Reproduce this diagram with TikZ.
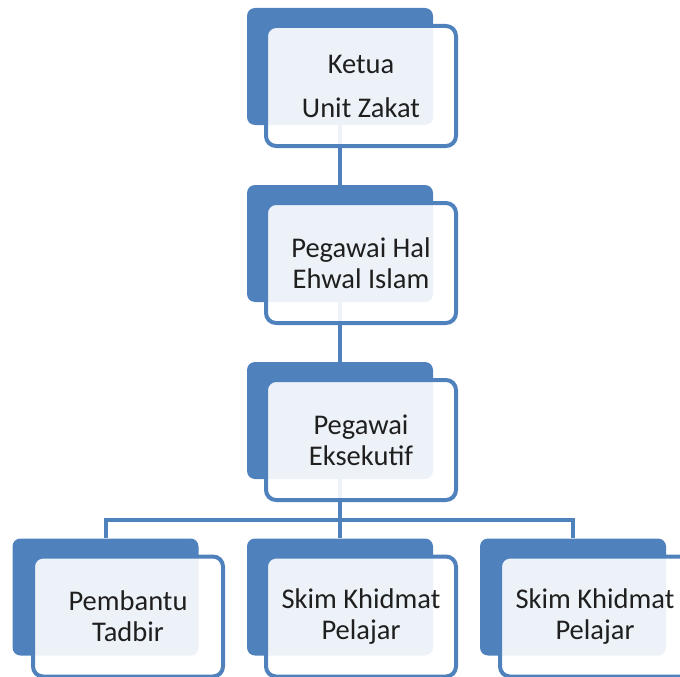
\documentclass[tikz,border=0pt]{standalone}
\usepackage{fontspec}
\setmainfont{Carlito}
\usepackage{xcolor}
\usepackage{tikz}
\usetikzlibrary{positioning}
\definecolor{orgblue}{HTML}{4F81BD}
\tikzset{back/.style={fill=orgblue,rounded corners=8pt,minimum width=186pt,minimum height=117pt,inner sep=0pt}}
\tikzstyle{front}=[draw=orgblue,line width=4pt,fill=white,fill opacity=0.9,text opacity=1,rounded corners=10pt,minimum width=190pt,minimum height=120pt,align=center,text=black!88,font=\fontsize{28.5}{31}\selectfont]
\tikzstyle{link}=[draw=orgblue,line width=4pt]

\begin{document}
\begin{tikzpicture}[x=1pt,y=-1pt,node distance=177pt]
    \useasboundingbox (0,0) rectangle (680,677);
    \clip (0,0) rectangle (680,677);
    \node [back] (b1) at (340,66.5) {};
    \node [back] (b2) [below of=b1] {};
    \node [back] (b3) [below of=b2] {};
    \node [back] (b4) [below of=b3,node distance=176.5pt] {};
    \node [back] (b5) [left of=b4,node distance=234.5pt] {};
    \node [back] (b6) [right of=b4,node distance=233pt] {};
    \path [link] (b1) edge (b2);
    \path [link] (b2) edge (b3);
    \draw [link] (b3.south) -- ++(0,41) coordinate (j);
    \draw [link] (j) -| (b5.north);
    \draw [link] (j) -| (b6.north);
    \draw [link] (j) -- (b4.north);
    \node [front] (a) at ([shift={(21,19.5)}]b1) {Ketua\\[13pt]Unit Zakat};
    \node [front] (b) at ([shift={(21,19.5)}]b2) {Pegawai Hal\\Ehwal Islam};
    \node [front] (c) at ([shift={(21,19.5)}]b3) {Pegawai\\Eksekutif};
    \node [front] (d) at ([shift={(21,19.5)}]b4) {Skim Khidmat\\Pelajar};
    \node [front] (e) at ([shift={(22.5,19.5)}]b5) {Pembantu\\Tadbir};
    \node [front] (f) at ([shift={(22,19.5)}]b6) {Skim Khidmat\\Pelajar};
\end{tikzpicture}
\end{document}
